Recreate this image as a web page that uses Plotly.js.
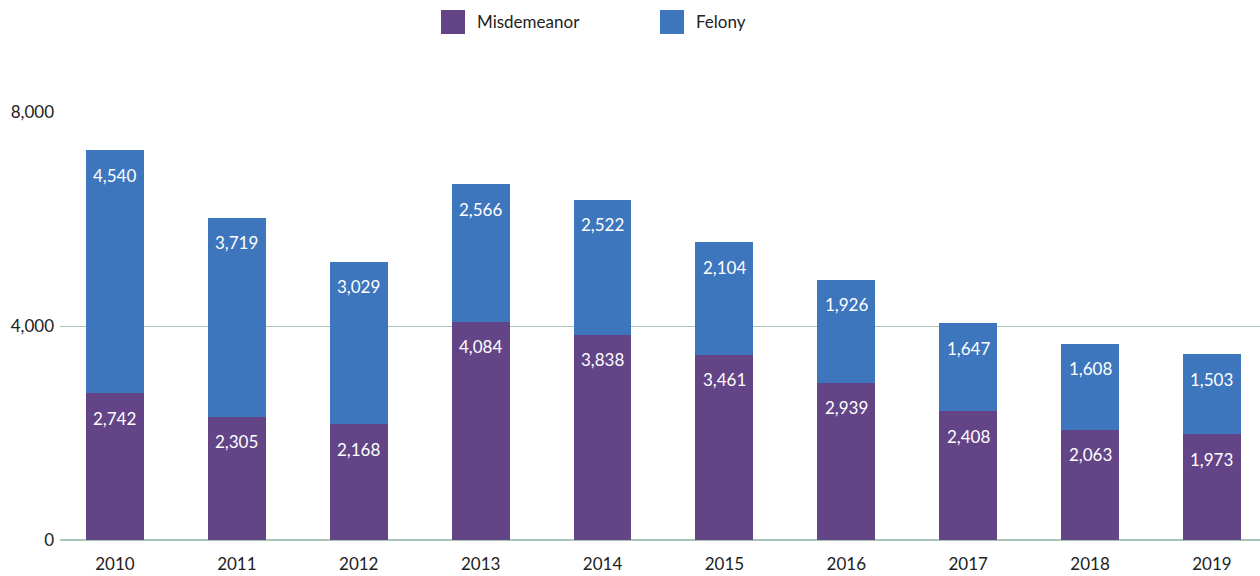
<!DOCTYPE html>
<html><head><meta charset="utf-8">
<script src="https://cdn.plot.ly/plotly-3.0.1.min.js"></script>
<style>html,body{margin:0;padding:0;background:#fff}#chart{width:1260px;height:576px}</style>
</head><body><div id="chart"></div>
<script>
const years = ["2010","2011","2012","2013","2014","2015","2016","2017","2018","2019"];
const misdemeanor = [2742,2305,2168,4084,3838,3461,2939,2408,2063,1973];
const felony = [4540,3719,3029,2566,2522,2104,1926,1647,1608,1503];
const yTicks = [0,4000,8000];
const seriesNames = ["Misdemeanor","Felony"];
const seriesColors = ["#634487","#3d76bd"];

const fmt = v => String(v).replace(/\B(?=(\d{3})+(?!\d))/g, ',');
const font = "Lato, 'Open Sans', sans-serif";

const traces = [
  {type:'bar', name:seriesNames[0], x:years, y:misdemeanor, marker:{color:seriesColors[0]}, hoverinfo:'skip'},
  {type:'bar', name:seriesNames[1], x:years, y:felony, marker:{color:seriesColors[1]}, hoverinfo:'skip'}
];

const annotations = [];
years.forEach((yr,i)=>{
  annotations.push({xref:'x', yref:'y', x:i, y:misdemeanor[i], text:fmt(misdemeanor[i]), showarrow:false, xanchor:'center', yanchor:'middle', yshift:-25, font:{color:'#ffffff', size:17, family:font}});
  annotations.push({xref:'x', yref:'y', x:i, y:misdemeanor[i]+felony[i], text:fmt(felony[i]), showarrow:false, xanchor:'center', yanchor:'middle', yshift:-25, font:{color:'#ffffff', size:17, family:font}});
});

// custom legend (paper coords; plot spans x 60..1260, y 112..540 px)
const px = x => (x-60)/1200, py = y => (540-y)/428;
const legendItems = [{x0:441, tx:475},{x0:660, tx:694}];
const shapes = [];
legendItems.forEach((it,k)=>{
  shapes.push({type:'rect', xref:'paper', yref:'paper', x0:px(it.x0), x1:px(it.x0+24), y0:py(34), y1:py(10), fillcolor:seriesColors[k], line:{width:0}});
  annotations.push({xref:'paper', yref:'paper', x:px(it.tx), y:py(22), xanchor:'left', yanchor:'middle', text:seriesNames[k], showarrow:false, font:{size:17, color:'#222', family:font}});
});

const layout = {
  width:1260, height:576,
  margin:{l:60, r:0, t:112, b:36, pad:0},
  barmode:'stack', bargap:0.525,
  paper_bgcolor:'#fff', plot_bgcolor:'#fff',
  font:{family:font, size:17, color:'#222'},
  showlegend:false,
  xaxis:{type:'category', range:[-0.451,9.394], showgrid:false, zeroline:false, showline:false, ticks:'', ticklabelstandoff:12, tickfont:{size:17, color:'#222'}},
  yaxis:{range:[0,8000], tickvals:yTicks, ticktext:yTicks.map(fmt), showgrid:true, gridcolor:'#a9c5b6', gridwidth:1, zeroline:true, zerolinecolor:'#a9c5b6', zerolinewidth:1.5, ticks:'', ticklabelstandoff:5, tickfont:{size:17, color:'#222'}},
  shapes:shapes,
  annotations:annotations
};
Plotly.newPlot('chart', traces, layout, {displayModeBar:false, staticPlot:true});
</script></body></html>
